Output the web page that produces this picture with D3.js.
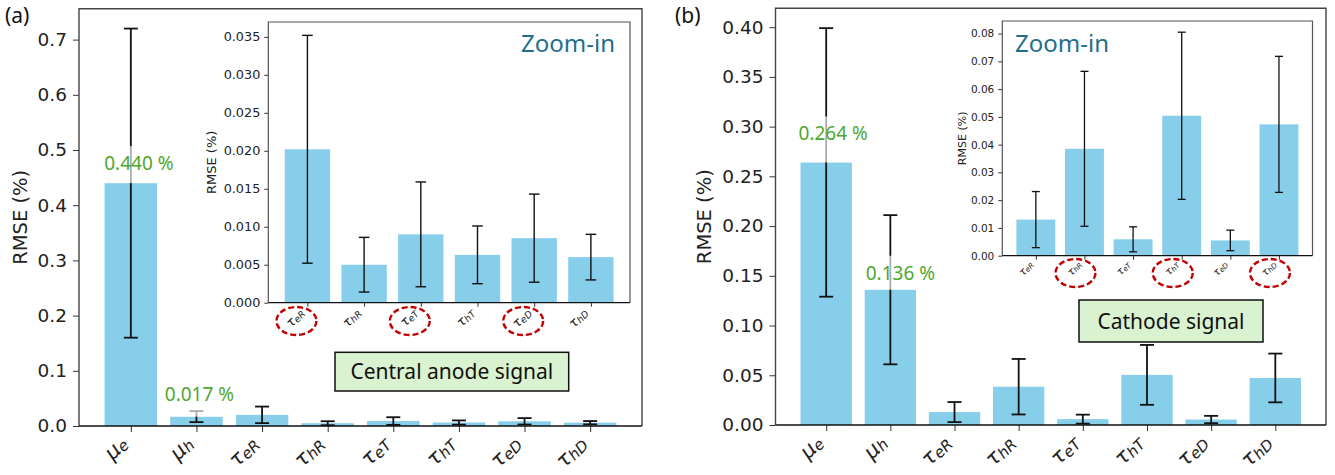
<!DOCTYPE html>
<html>
<head>
<meta charset="utf-8">
<script src="https://cdn.jsdelivr.net/npm/d3@7/dist/d3.min.js"></script>
<style>
  body { margin: 0; background: #fff; }
  svg { display: block; }
</style>
</head>
<body>
<svg id="chart" width="1335" height="475"></svg>
<script>
// parameters: symbol + subscript (mathtext style)
const symbols = ['μ', 'μ', 'τ', 'τ', 'τ', 'τ', 'τ', 'τ'];
const subscripts = ['e', 'h', 'eR', 'hR', 'eT', 'hT', 'eD', 'hD'];

// (a) central anode signal
const anodeRmse = [0.440, 0.017, 0.0202, 0.0050, 0.0090, 0.0063, 0.0085, 0.0060];
const anodeErr  = [0.280, 0.010, 0.0150, 0.0036, 0.0069, 0.0038, 0.0058, 0.0030];
// (b) cathode signal
const cathodeRmse = [0.264, 0.136, 0.0130, 0.0385, 0.0059, 0.0504, 0.0055, 0.0473];
const cathodeErr  = [0.135, 0.075, 0.0101, 0.0279, 0.0045, 0.0301, 0.0037, 0.0245];

const anodeTicks = [0, 0.1, 0.2, 0.3, 0.4, 0.5, 0.6, 0.7];
const anodeInsetTicks = [0, 0.005, 0.010, 0.015, 0.020, 0.025, 0.030, 0.035];
const cathodeTicks = [0, 0.05, 0.10, 0.15, 0.20, 0.25, 0.30, 0.35, 0.40];
const cathodeInsetTicks = [0, 0.01, 0.02, 0.03, 0.04, 0.05, 0.06, 0.07, 0.08];

const insetIdx = [2, 3, 4, 5, 6, 7];
const anodeCircled = ['eR', 'eT', 'eD'];
const cathodeCircled = ['hR', 'hT', 'hD'];

const barColor = '#87ceeb';
const mplFont = '"DejaVu Sans", sans-serif';
const pptFont = '"Noto Sans", "Open Sans", sans-serif';

const svg = d3.select('#chart');

// one bar panel with error bars, matplotlib-like autoscale
function drawBars(box, idx, values, errs, ticks, fmt, st) {
    const g = svg.append('g');
    const n = idx.length;
    const m = 0.05 * (n - 1 + 0.8);
    const x = d3.scaleLinear().domain([-0.4 - m, n - 1 + 0.4 + m]).range([box.x0, box.x1]);
    const yMax = d3.max(values, (v, i) => v + errs[i]) * 1.05;
    const y = d3.scaleLinear().domain([0, yMax]).range([box.y1, box.y0]);

    g.append('rect')
        .attr('x', box.x0).attr('y', box.y0)
        .attr('width', box.x1 - box.x0).attr('height', box.y1 - box.y0)
        .attr('fill', '#fff');

    const data = values.map((v, i) => ({ i, v, e: errs[i], k: idx[i] }));

    g.selectAll('rect.bar')
        .data(data)
        .enter()
        .append('rect')
        .attr('class', 'bar')
        .attr('x', d => x(d.i - 0.4))
        .attr('width', d => x(d.i + 0.4) - x(d.i - 0.4))
        .attr('y', d => y(d.v))
        .attr('height', d => box.y1 - y(d.v))
        .attr('fill', barColor);

    const eb = g.selectAll('g.err').data(data).enter().append('g')
        .attr('stroke', '#111').attr('stroke-width', st.errW);
    eb.append('line')
        .attr('x1', d => x(d.i)).attr('x2', d => x(d.i))
        .attr('y1', d => y(Math.max(0, d.v - d.e))).attr('y2', d => y(d.v + d.e));
    eb.append('line')
        .attr('x1', d => x(d.i) - st.cap).attr('x2', d => x(d.i) + st.cap)
        .attr('y1', d => y(d.v + d.e)).attr('y2', d => y(d.v + d.e));
    eb.append('line')
        .attr('x1', d => x(d.i) - st.cap).attr('x2', d => x(d.i) + st.cap)
        .attr('y1', d => y(Math.max(0, d.v - d.e))).attr('y2', d => y(Math.max(0, d.v - d.e)));

    // y axis
    const ya = g.append('g')
        .attr('transform', `translate(${box.x0},0)`)
        .call(d3.axisLeft(y).tickValues(ticks).tickFormat(d3.format(fmt))
            .tickSize(st.tick).tickPadding(st.pad));
    ya.select('.domain').remove();
    ya.selectAll('text').attr('font-family', mplFont).attr('font-size', st.tickFs).attr('fill', '#222');
    ya.selectAll('line').attr('stroke', '#333');

    // x axis ticks
    const xa = g.append('g')
        .attr('transform', `translate(0,${box.y1})`)
        .call(d3.axisBottom(x).tickValues(d3.range(n)).tickFormat('').tickSize(st.tick));
    xa.select('.domain').remove();
    xa.selectAll('line').attr('stroke', '#333');

    // rotated mathtext-like tick labels, ending at the tick
    const lbl = g.selectAll('text.xl').data(data).enter().append('text')
        .attr('class', 'xl')
        .attr('font-family', mplFont)
        .attr('font-style', 'italic')
        .attr('font-size', st.xFs)
        .attr('fill', '#222')
        .attr('text-anchor', 'end')
        .attr('transform', d => `translate(${x(d.i) + st.xdx},${box.y1 + st.xdy}) rotate(-45)`);
    lbl.append('tspan').text(d => symbols[d.k]);
    lbl.append('tspan').attr('font-size', '72%').attr('dy', '0.12em').text(d => subscripts[d.k]);

    // frame
    g.append('path')
        .attr('d', `M${box.x0},${box.y1}V${box.y0}H${box.x1}V${box.y1}`)
        .attr('fill', 'none').attr('stroke', st.frame).attr('stroke-width', st.frameW);
    g.append('line')
        .attr('x1', box.x0).attr('x2', box.x1).attr('y1', box.y1).attr('y2', box.y1)
        .attr('stroke', '#111').attr('stroke-width', st.frameW);

    // y label
    g.append('text')
        .attr('transform', `translate(${st.ylx},${(box.y0 + box.y1) / 2}) rotate(-90)`)
        .attr('text-anchor', 'middle')
        .attr('font-family', mplFont)
        .attr('font-size', st.yFs)
        .attr('fill', '#222')
        .text('RMSE (%)');

    return { g, x, y, data };
}

const mainStyle = { errW: 1.8, cap: 7, tick: 6, pad: 6, tickFs: 18.5, xFs: 21, xdx: -2, xdy: 19,
    frame: '#444', frameW: 1.4, yFs: 19.5 };

function valueLabel(panel, i, text, dx, dy) {
    const cx = panel.x(i) + dx;
    const top = panel.y(panel.data[i].v);
    const yb = top - dy;
    const bg = panel.g.append('rect');
    const t = panel.g.append('text')
        .attr('x', cx).attr('y', yb)
        .attr('text-anchor', 'middle')
        .attr('font-family', pptFont)
        .attr('font-size', 19)
        .attr('fill', '#4ea72e')
        .text(text);
    const w = t.node().getComputedTextLength();
    bg.attr('x', cx - w / 2 - 2).attr('width', w + 4)
        .attr('y', yb - 24).attr('height', Math.max(0, top - (yb - 24)))
        .attr('fill', '#fff').attr('opacity', 0.65);
}

function circleLabels(panel, keys, cy, dx) {
    panel.data.filter(d => keys.includes(subscripts[d.k])).forEach(d => {
        panel.g.append('ellipse')
            .attr('cx', panel.x(d.i) + dx).attr('cy', cy)
            .attr('rx', 20).attr('ry', 14)
            .attr('fill', 'none')
            .attr('stroke', '#c00000')
            .attr('stroke-width', 2.4)
            .attr('stroke-dasharray', '6,3');
    });
}

function signalBox(x0, y0, w, h, text) {
    svg.append('rect')
        .attr('x', x0).attr('y', y0).attr('width', w).attr('height', h)
        .attr('fill', '#d9f2d0').attr('stroke', '#111').attr('stroke-width', 1.5);
    svg.append('text')
        .attr('x', x0 + w / 2).attr('y', y0 + h / 2 + 7.5)
        .attr('text-anchor', 'middle')
        .attr('font-family', pptFont)
        .attr('font-size', 21)
        .attr('fill', '#111')
        .text(text);
}

// ---------- panel (a) ----------
const all = d3.range(8);
const a = drawBars({ x0: 79, x1: 642, y0: 8.7, y1: 426 }, all, anodeRmse, anodeErr,
    anodeTicks, '.1f', { ...mainStyle, ylx: 27 });
valueLabel(a, 0, '0.440 %', 8, 13);
valueLabel(a, 1, '0.017 %', 3, 16);

const aIn = drawBars({ x0: 268.3, x1: 630, y0: 22, y1: 302.7 }, insetIdx,
    insetIdx.map(i => anodeRmse[i]), insetIdx.map(i => anodeErr[i]),
    anodeInsetTicks, '.3f',
    { errW: 1.4, cap: 5.3, tick: 4, pad: 4, tickFs: 12.8, xFs: 13, xdx: -2, xdy: 11,
      frame: '#555', frameW: 1.2, yFs: 13, ylx: 216 });
circleLabels(aIn, anodeCircled, 321, -11);
aIn.g.append('text')
    .attr('x', 615).attr('y', 51.7)
    .attr('text-anchor', 'end')
    .attr('font-family', pptFont)
    .attr('font-size', 24)
    .attr('fill', '#1f6e8c')
    .text('Zoom-in');
signalBox(335, 352.3, 233.7, 38.7, 'Central anode signal');

// ---------- panel (b) ----------
const b = drawBars({ x0: 775.5, x1: 1326, y0: 8.3, y1: 425 }, all, cathodeRmse, cathodeErr,
    cathodeTicks, '.2f', { ...mainStyle, ylx: 711 });
valueLabel(b, 0, '0.264 %', 7, 22);
valueLabel(b, 1, '0.136 %', 10, 10);

const bIn = drawBars({ x0: 1002.3, x1: 1312.5, y0: 21, y1: 255.7 }, insetIdx,
    insetIdx.map(i => cathodeRmse[i]), insetIdx.map(i => cathodeErr[i]),
    cathodeInsetTicks, '.2f',
    { errW: 1.3, cap: 4, tick: 4, pad: 4, tickFs: 10.5, xFs: 10, xdx: -2, xdy: 9.5,
      frame: '#555', frameW: 1.2, yFs: 11, ylx: 966 });
circleLabels(bIn, cathodeCircled, 273, -9);
bIn.g.append('text')
    .attr('x', 1015).attr('y', 51.7)
    .attr('font-family', pptFont)
    .attr('font-size', 24)
    .attr('fill', '#1f6e8c')
    .text('Zoom-in');
signalBox(1079, 300, 184, 42, 'Cathode signal');

// panel letters
[['(a)', 5], ['(b)', 675]].forEach(([t, x0]) => {
    svg.append('text')
        .attr('x', x0).attr('y', 23)
        .attr('font-family', pptFont)
        .attr('font-size', 21)
        .attr('fill', '#111')
        .text(t);
});
</script>
</body>
</html>
